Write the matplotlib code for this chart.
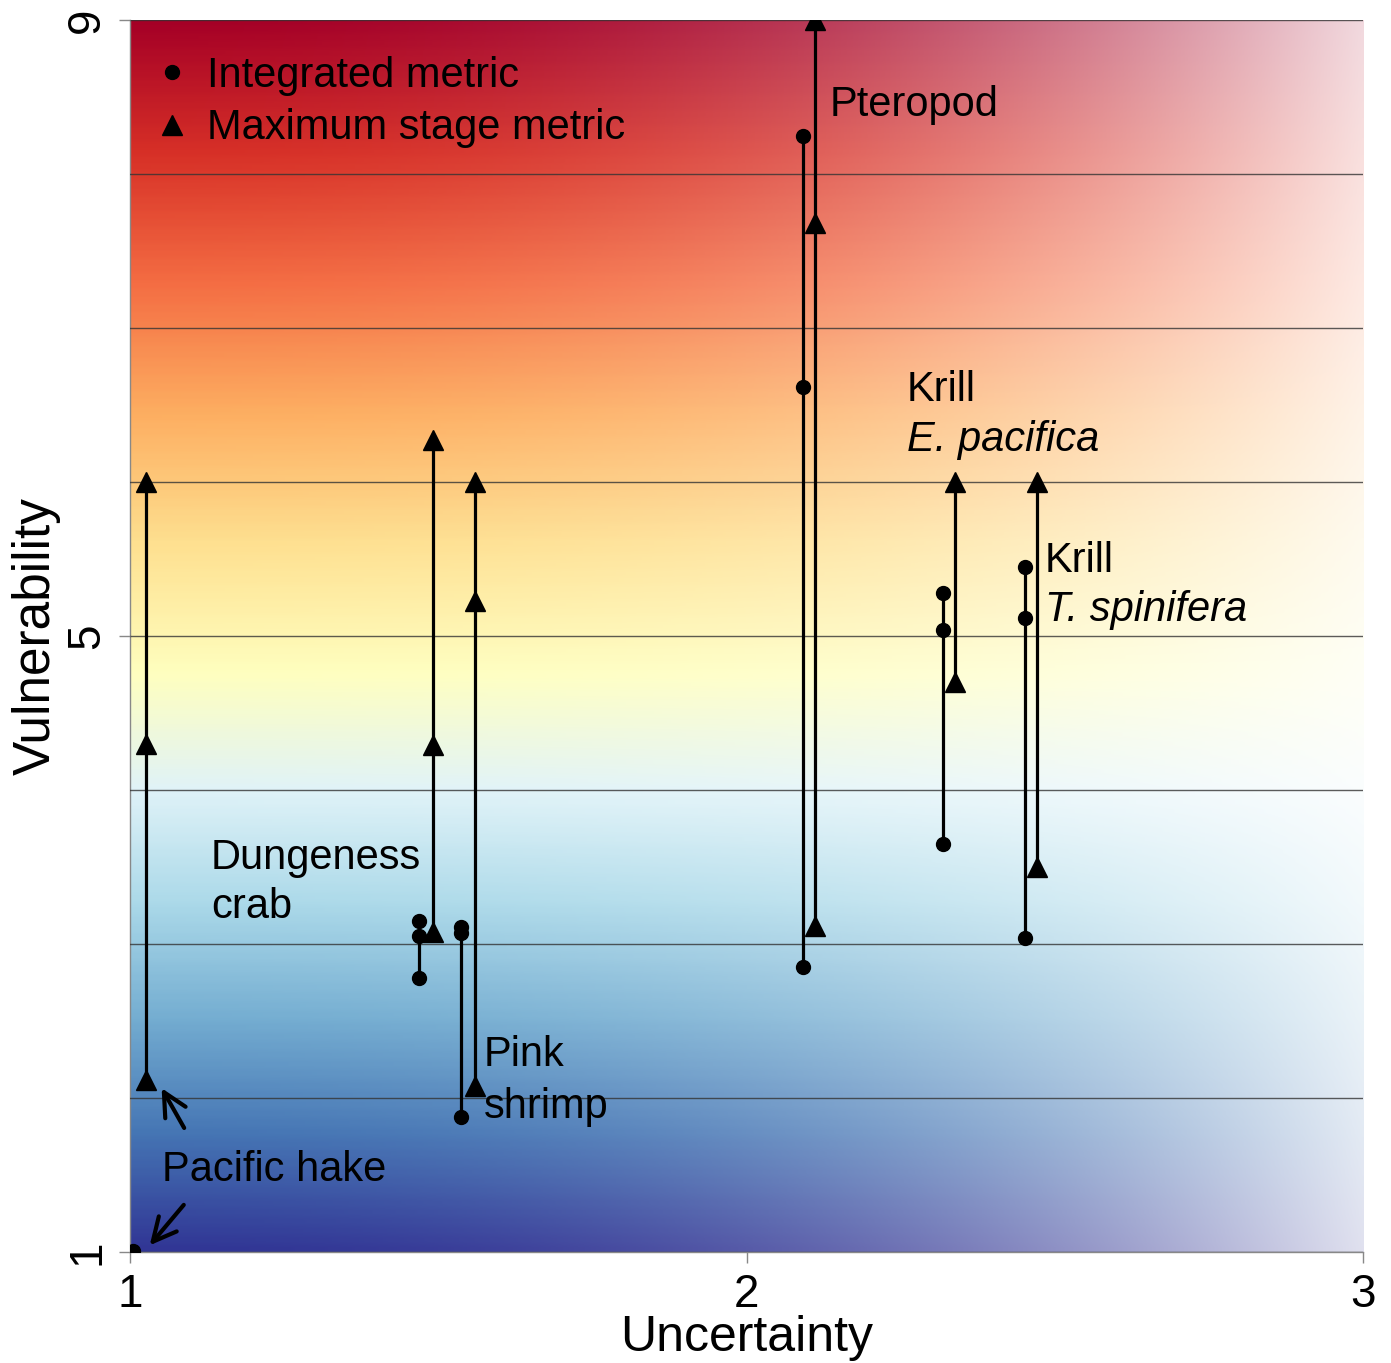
import numpy as np
import matplotlib
matplotlib.use("Agg")
import matplotlib.pyplot as plt
from matplotlib.lines import Line2D

plt.rcParams['font.family'] = ['Liberation Sans', 'DejaVu Sans']

# species data: x of integrated metric dots, x of maximum stage triangles
species = ["Pacific hake", "Dungeness crab", "Pink shrimp", "Pteropod",
           "Krill E. pacifica", "Krill T. spinifera"]
circ_x = [1.005, 1.469, 1.537, 2.091, 2.318, 2.452]
tri_x = [1.026, 1.492, 1.560, 2.111, 2.338, 2.471]
circ_y = [[1.01],
          [3.15, 3.05, 2.78],
          [3.11, 3.07, 1.88],
          [8.25, 6.62, 2.85],
          [5.28, 5.04, 3.65],
          [5.45, 5.12, 3.04]]
tri_y = [[6.0, 4.30, 2.12],
         [6.27, 4.29, 3.08],
         [6.0, 5.23, 2.08],
         [9.0, 7.68, 3.12],
         [6.0, 4.70],
         [6.0, 3.50]]

fig = plt.figure(figsize=(13.91, 13.63), dpi=100)
ax = fig.add_axes([0.0935, 0.0814, 0.8865, 0.9039])

# background: RdYlBu going up, fading to white towards the right
ny, nx = 400, 400
yy = np.linspace(1, 9, ny)
# white point of the colour ramp sits a bit below 5
v = np.where(yy < 4.75, (yy - 1) / 3.75 * 0.5, 0.5 + (yy - 4.75) / 4.25 * 0.5)
v = v[:, None] * np.ones((1, nx))
rgb = plt.get_cmap('RdYlBu_r')(v)[..., :3]
t = np.linspace(0, 1, nx)[None, :]
f = (1 - 0.85 * t ** 2.2)[..., None]
img = rgb * f + (1 - f)
ax.imshow(img, extent=[1, 3, 1, 9], origin='lower', aspect='auto', zorder=0,
          interpolation='bilinear')

for i in range(len(species)):
    cy = circ_y[i]
    ty = tri_y[i]
    if len(cy) > 1:
        ax.plot([circ_x[i], circ_x[i]], [min(cy), max(cy)], color='black', lw=2.3, zorder=3)
    ax.plot([tri_x[i], tri_x[i]], [min(ty), max(ty)], color='black', lw=2.3, zorder=3)
    ax.plot([circ_x[i]] * len(cy), cy, 'o', color='black', ms=10, zorder=4)
    ax.plot([tri_x[i]] * len(ty), ty, '^', color='black', ms=14, zorder=4)

ax.set_xlim(1, 3)
ax.set_ylim(1, 9)
ax.set_xticks([1, 2, 3])
ax.set_yticks([1, 5, 9])
ax.set_yticks(range(2, 9), minor=True)
ax.grid(axis='y', which='both', color='#333333', lw=1, alpha=0.8)
ax.set_axisbelow(False)
ax.tick_params(which='minor', length=0)
ax.tick_params(which='major', length=8, width=1, color='#888888', labelsize=33,
               direction='out', pad=7)
for lab in ax.get_yticklabels():
    lab.set_rotation(90)
    lab.set_va('center')
for s in ['top', 'right']:
    ax.spines[s].set_visible(False)
for s in ['left', 'bottom']:
    ax.spines[s].set_color('#888888')
    ax.spines[s].set_linewidth(1)

ax.set_xlabel("Uncertainty", fontsize=36, labelpad=-1)
ax.set_ylabel("Vulnerability", fontsize=37, labelpad=3)

# labels
fs = 30
ax.text(2.135, 8.45, "Pteropod", fontsize=fs, va='center')
ax.text(2.26, 6.60, "Krill", fontsize=fs, va='center')
ax.text(2.26, 6.27, "E. pacifica", fontsize=fs, va='center', style='italic')
ax.text(2.484, 5.49, "Krill", fontsize=fs, va='center')
ax.text(2.484, 5.17, "T. spinifera", fontsize=fs, va='center', style='italic')
ax.text(1.131, 3.56, "Dungeness", fontsize=fs, va='center')
ax.text(1.131, 3.24, "crab", fontsize=fs, va='center')
ax.text(1.574, 2.28, "Pink", fontsize=fs, va='center')
ax.text(1.574, 1.94, "shrimp", fontsize=fs, va='center')
ax.text(1.052, 1.53, "Pacific hake", fontsize=fs, va='center')

ax.annotate("", xy=(1.049, 2.08), xytext=(1.09, 1.79),
            arrowprops=dict(arrowstyle='->', lw=3, color='black',
                            mutation_scale=42))
ax.annotate("", xy=(1.029, 1.03), xytext=(1.09, 1.32),
            arrowprops=dict(arrowstyle='->', lw=3, color='black',
                            mutation_scale=42))

handles = [Line2D([], [], marker='o', color='black', ls='none', ms=10),
           Line2D([], [], marker='^', color='black', ls='none', ms=14)]
ax.legend(handles, ["Integrated metric", "Maximum stage metric"], loc='upper left',
          bbox_to_anchor=(0, 0.988), frameon=False, fontsize=fs,
          handletextpad=0.35, borderaxespad=0.2, borderpad=0.3,
          labelspacing=0.3, handlelength=1.0)

fig.savefig("out.png", dpi=100)
